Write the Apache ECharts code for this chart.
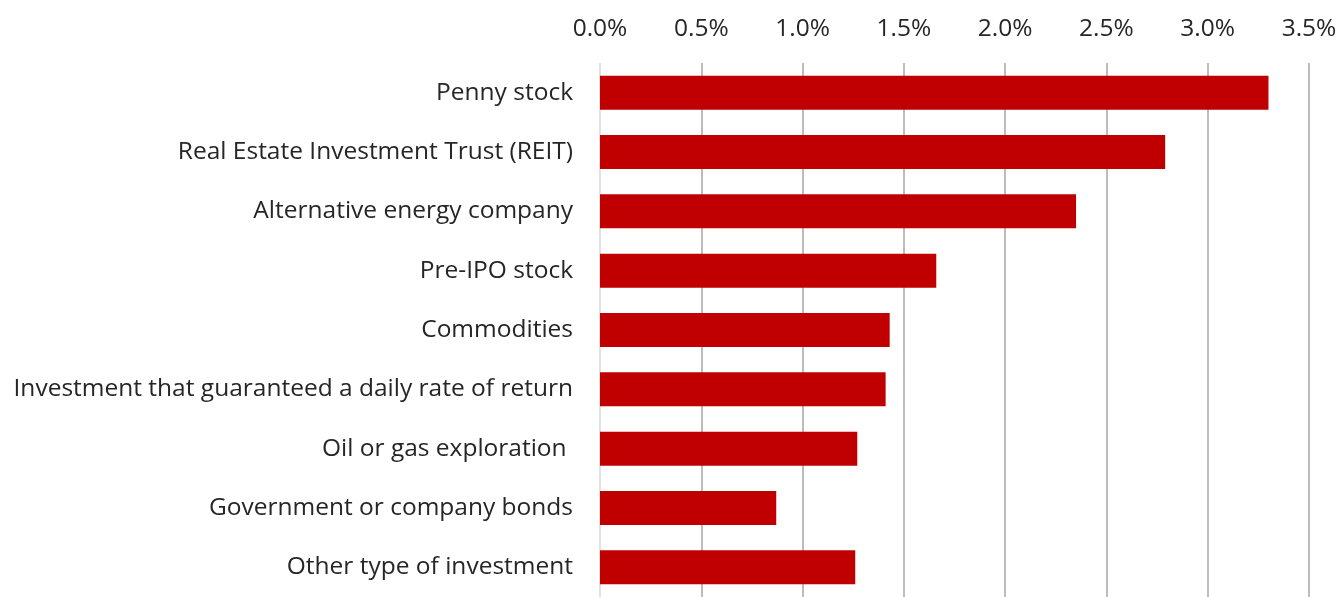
<!DOCTYPE html>
<html>
<head>
<meta charset="utf-8">
<script src="https://cdn.jsdelivr.net/npm/echarts@6/dist/echarts.min.js"></script>
<style>
  html, body { margin: 0; padding: 0; background: #fff; }
  #chart { width: 1341px; height: 597px; }
</style>
</head>
<body>
<div id="chart"></div>
<script>
const categories = [
  'Penny stock',
  'Real Estate Investment Trust (REIT)',
  'Alternative energy company',
  'Pre-IPO stock',
  'Commodities',
  'Investment that guaranteed a daily rate of return',
  'Oil or gas exploration ',
  'Government or company bonds',
  'Other type of investment'
]
const shares = [3.30, 2.79, 2.35, 1.66, 1.43, 1.41, 1.27, 0.87, 1.26]
const xMin = 0
const xMax = 3.5
const xStep = 0.5

const myChart = echarts.init(document.getElementById('chart'))
myChart.setOption({
  animation: false,
  textStyle: { fontFamily: 'Open Sans' },
  grid: { left: 600, right: 32, top: 63, height: 535.5 },
  xAxis: {
    type: 'value',
    position: 'top',
    min: xMin,
    max: xMax,
    interval: xStep,
    axisLine: { show: false },
    axisTick: { show: false },
    axisLabel: {
      margin: 21,
      fontSize: 24.5,
      color: '#262626',
      formatter: v => v.toFixed(1) + '%'
    },
    splitLine: {
      lineStyle: {
        color: ['#d9d9d9', '#a6a6a6', '#a6a6a6', '#a6a6a6', '#a6a6a6', '#a6a6a6', '#a6a6a6', '#a6a6a6'],
        width: 1.5
      }
    }
  },
  yAxis: {
    type: 'category',
    inverse: true,
    data: categories,
    axisLine: { show: false },
    axisTick: { show: false },
    axisLabel: { margin: 27, fontSize: 24.5, color: '#262626' }
  },
  series: [
    {
      type: 'bar',
      data: shares,
      barWidth: 34,
      itemStyle: { color: '#c00000' }
    }
  ]
})
</script>
</body>
</html>
